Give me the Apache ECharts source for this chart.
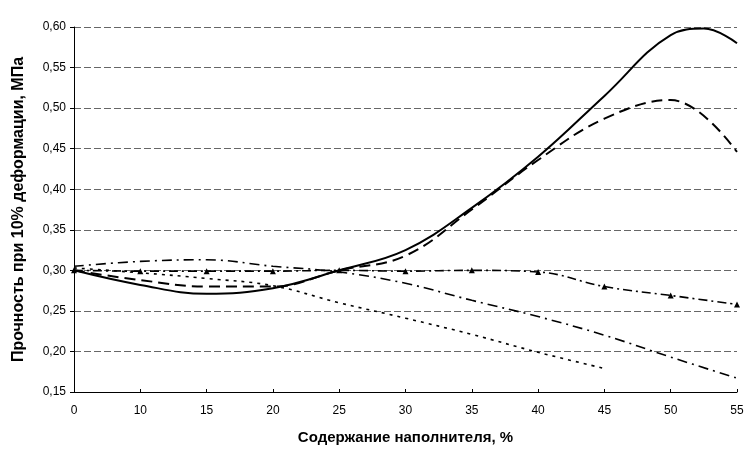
<!DOCTYPE html>
<html lang="ru">
<head>
	<meta charset="UTF-8">
	<title>Прочность при 10% деформации</title>
	<script src="https://cdn.jsdelivr.net/npm/echarts@6/dist/echarts.min.js"></script>
	<style>
		html, body { margin: 0; padding: 0; background: #fff; }
		#main { width: 754px; height: 451px; }
	</style>
</head>
<body>
	<div id="main"></div>
	<script type="text/javascript">
	// содержание наполнителя, % (на графике шаг по оси равномерный)
	var categories = ['0', '10', '15', '20', '25', '30', '35', '40', '45', '50', '55'];
	// кривые (МПа)
	var solidLine    = [0.300, 0.282, 0.271, 0.278, 0.300, 0.325, 0.377, 0.440, 0.515, 0.590, 0.580];
	var solidPeak    = [9.5, 0.598];   // вершина кривой между 50 и 55
	var dashedLine   = [0.300, 0.288, 0.280, 0.280, 0.300, 0.318, 0.375, 0.436, 0.487, 0.510, 0.446];
	var triangleLine = [0.300, 0.299, 0.299, 0.299, 0.300, 0.299, 0.300, 0.298, 0.280, 0.269, 0.258];
	var dashDotLine  = [0.305, 0.311, 0.313, 0.305, 0.298, 0.284, 0.263, 0.243, 0.220, 0.193, 0.167];
	var dottedLine   = [0.303, 0.297, 0.290, 0.281, 0.260, 0.241, 0.221, 0.199, 0.179];
	var yTicks = { min: 0.15, max: 0.60, step: 0.05 };

	var myChart = echarts.init(document.getElementById('main'));
	var font = 'Liberation Sans, Arial, sans-serif';

	// точки в виде [индекс категории, значение]
	function pts(arr) {
		return arr.map(function (v, i) { return [i, v]; });
	}

	function line(data, type, width, extra) {
		var s = {
			type: 'line',
			data: data,
			smooth: 0.4,
			symbol: 'none',
			lineStyle: { color: '#000', width: width, type: type },
			z: 3
		};
		for (var k in extra) s[k] = extra[k];
		return s;
	}

	var solidData = pts(solidLine);
	solidData.splice(10, 0, solidPeak);

	var option = {
		backgroundColor: '#fff',
		animation: false,
		grid: { left: 74, right: 17, top: 27, bottom: 59 },
		xAxis: {
			type: 'value',
			min: 0,
			max: categories.length - 1,
			interval: 1,
			name: 'Содержание наполнителя, %',
			nameLocation: 'middle',
			nameGap: 38,
			nameTextStyle: { fontFamily: font, fontWeight: 'bold', fontSize: 15, color: '#000' },
			axisLine: { lineStyle: { color: '#000', width: 1 } },
			axisTick: { show: true, inside: true, length: 3, lineStyle: { color: '#000' } },
			axisLabel: {
				fontFamily: font, fontSize: 12, color: '#000', margin: 13,
				formatter: function (v) { return categories[Math.round(v)]; }
			},
			splitLine: { show: false }
		},
		yAxis: {
			type: 'value',
			min: yTicks.min,
			max: yTicks.max,
			interval: yTicks.step,
			name: 'Прочность при 10% деформации, МПа',
			nameLocation: 'middle',
			nameGap: 47,
			nameTextStyle: { fontFamily: font, fontWeight: 'bold', fontSize: 16, color: '#000' },
			axisLine: { show: true, lineStyle: { color: '#000', width: 1 } },
			axisTick: { show: true, length: 4, lineStyle: { color: '#000' } },
			axisLabel: {
				fontFamily: font, fontSize: 12, color: '#000', margin: 8,
				formatter: function (v) { return v.toFixed(2).replace('.', ','); }
			},
			splitLine: { show: true, lineStyle: { color: '#666', width: 1, type: [7, 3] } }
		},
		series: [
			line(solidData, 'solid', 2),
			line(pts(dashedLine), [11, 6], 2),
			line(pts(triangleLine), [9, 4, 2, 4], 1.6, {
				symbol: 'triangle', symbolSize: 6, showSymbol: true,
				itemStyle: { color: '#000' }
			}),
			line(pts(dashDotLine), [10, 5, 2, 5], 1.6),
			line(pts(dottedLine), [3, 5], 1.6)
		]
	};
	myChart.setOption(option);
	</script>
</body>
</html>
